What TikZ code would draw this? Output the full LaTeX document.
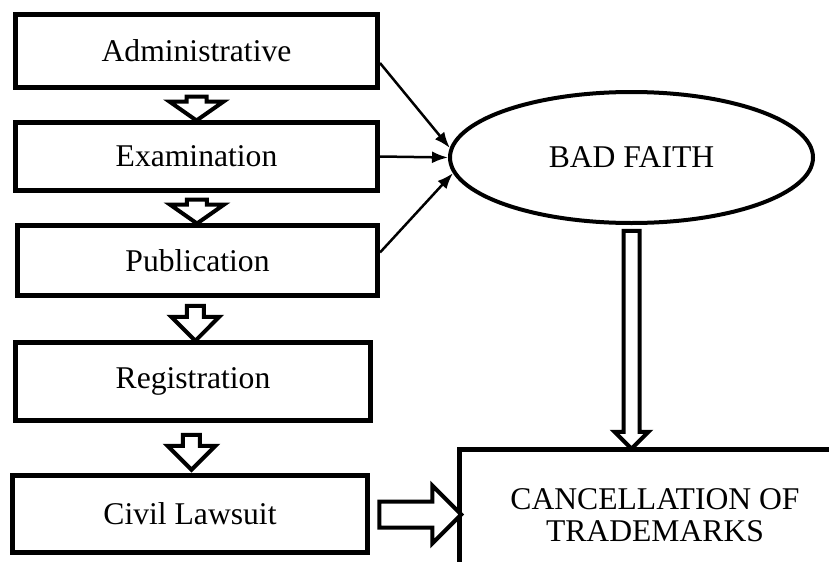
\documentclass[tikz,border=0pt]{standalone}
\usepackage{fontspec}
\setmainfont{Liberation Serif}
\usetikzlibrary{shapes.geometric,shapes.arrows,arrows.meta}
\begin{document}
\begin{tikzpicture}[x=0.2mm,y=-0.2mm,
  stage/.style={draw,line width=1mm,inner sep=0pt,align=center,font=\fontsize{18}{18.2}\selectfont},
  flow/.style={single arrow,draw,fill=white,line width=0.8mm,inner sep=0pt,text depth=0pt,single arrow head extend=#1},
  link/.style={line width=0.5mm,-{Latex[length=3.2mm,width=2.4mm]}}]
  \useasboundingbox (0,0) rectangle (829,562);
  \clip (0,0) rectangle (829,562);
  \node[stage,minimum width=72.4mm,minimum height=14.6mm] (adm) at (196.5,51) {Administrative};
  \node[stage,minimum width=72.4mm,minimum height=13.6mm] (exam) at (196.5,156.5) {Examination};
  \node[stage,minimum width=72mm,minimum height=14mm] (pub) at (197.5,260.5) {Publication};
  \node[stage,minimum width=71mm,minimum height=15.6mm] (reg) at (193,381.5) {Registration};
  \node[stage,minimum width=71mm,minimum height=15.4mm] (civil) at (190,514) {Civil Lawsuit};
  \node[stage,minimum width=78mm,minimum height=26.4mm] (cancel) at (655,515) {CANCELLATION OF\\TRADEMARKS};
  \node[stage,ellipse,line width=0.8mm,minimum width=72.6mm,minimum height=26.2mm] (bad) at (631.5,157.5) {BAD FAITH};
  \path (adm) -- node[flow=3.4mm,rotate=-90,text height=3.2mm,minimum height=4.8mm,single arrow tip angle=110] (a1) {} (exam);
  \path (exam) -- node[flow=3.4mm,rotate=-90,text height=3.2mm,minimum height=4.8mm,single arrow tip angle=110] (a2) {} (pub);
  \path (pub) -- node[flow=3.1mm,rotate=-90,text height=2.6mm,minimum height=7mm] (a3) {} (reg);
  \path (reg) -- node[flow=3.1mm,rotate=-90,text height=2.6mm,minimum height=7mm] (a4) {} (civil);
  \path (civil.east) -- node[flow=3.2mm,text height=4.4mm,minimum height=16.4mm] (ar) {} (cancel.west);
  \path (bad.south) -- node[flow=1.8mm,rotate=-90,text height=2.4mm,minimum height=43.6mm] (ad) {} (bad.south |- cancel.north);
  \draw[link] ([yshift=-2.4mm]adm.east) -- (bad.177);
  \draw[link] (exam.east) -- (bad.180);
  \draw[link] ([yshift=1.6mm]pub.east) -- (bad.185);
\end{tikzpicture}
\end{document}
